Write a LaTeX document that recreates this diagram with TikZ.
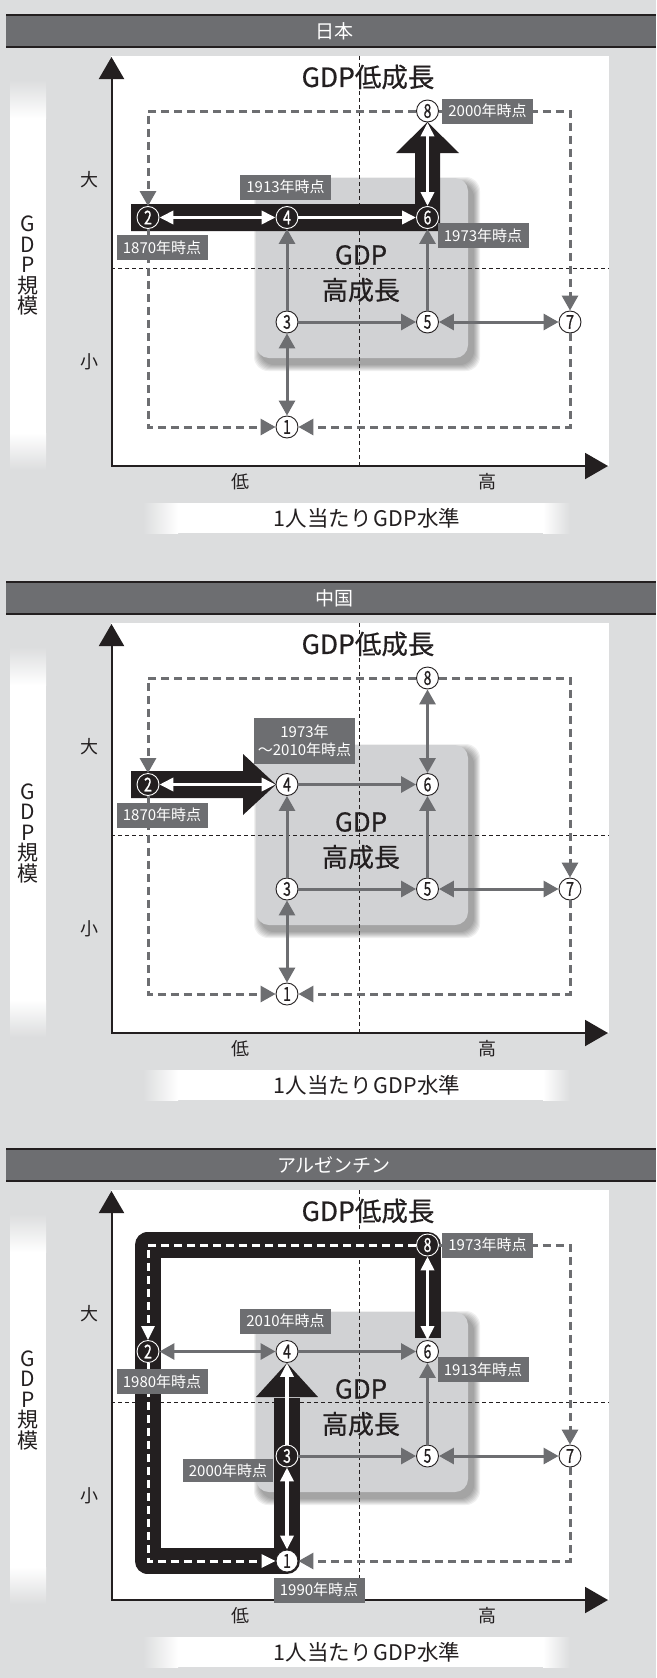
\documentclass[tikz,border=0pt]{standalone}
\usepackage{fontspec}
\setmainfont{Noto Sans CJK JP}
\usepackage{graphicx}
\usetikzlibrary{arrows.meta}
\definecolor{bg}{HTML}{DCDDDE}
\definecolor{ink}{HTML}{231F20}
\definecolor{mid}{HTML}{6D6E71}
\definecolor{boxg}{HTML}{D1D2D4}
\newcommand{\dg}[1]{\scalebox{0.74}[1]{#1}}
\newcommand{\fsz}[1]{\fontsize{#1}{#1}\selectfont}
\newcommand{\semib}{\addfontfeature{FakeBold=0.6}}
\def\xA{148}\def\xB{287}\def\xC{427.5}\def\xD{570}
\def\yE{111}\def\yT{217.5}\def\yM{322}\def\yB{427}
\tikzset{
  >={Triangle[length=15pt,width=16pt]},
  num/.style={circle, draw=ink, line width=0.9pt, fill=white, minimum size=22pt, inner sep=0pt, text=ink, font=\fsz{19}\addfontfeature{FakeBold=1}},
  numdark/.style={num, draw=white, fill=ink, text=white},
  garrow/.style={draw=mid, line width=3pt},
  gdash/.style={draw=mid, line width=3pt, dash pattern=on 8pt off 5pt, ->},
  warrow/.style={draw=white, line width=3.5pt, >={Triangle[length=14pt,width=13pt]}},
  wdash/.style={draw=white, line width=3pt, dash pattern=on 8pt off 5pt, >={Triangle[length=14pt,width=13pt]}, ->},
  lab/.style={fill=mid, text=white, inner sep=0pt, minimum width=91pt, minimum height=25pt, font=\fsz{15}},
  midline/.style={draw=ink, line width=0.8pt, dash pattern=on 4pt off 3pt},
  band/.style={fill=ink},
  txt/.style={text=ink, inner sep=0pt},
}
\newcommand{\panelbase}[1]{%
  \fill[mid] (6,14) rectangle (656,48);
  \fill[ink] (6,14) rectangle (656,16);
  \fill[ink] (6,46) rectangle (656,48);
  \node[text=white, font=\fsz{19}, inner sep=0pt] (hdr) at (334,31) {#1};
  \shade[top color=bg, bottom color=white] (10,80) rectangle (46,118);
  \fill[white] (10,117.5) rectangle (46,433.5);
  \shade[top color=white, bottom color=bg] (10,433) rectangle (46,470);
  \node[txt, font=\fontsize{21}{20.5}\selectfont, align=center] (ylab) at (28,266) {G\\D\\P\\規\\模};
  \shade[left color=bg, right color=white] (143,503) rectangle (178,533);
  \fill[white] (177.5,503) rectangle (543.5,533);
  \shade[left color=white, right color=bg] (543,503) rectangle (570,533);
  \node[txt, font=\fsz{21.5}] (xlab) at (367,518) {1人当たり\hspace{2pt}GDP水準};
  \fill[white] (111,56) rectangle (609,466);
  \foreach \k in {1,...,7} {\fill[black, opacity=0.06, rounded corners=14pt] (261-\k,184-\k) rectangle (473+\k,364+\k);}
  \fill[boxg, rounded corners=13pt] (256,178) rectangle (468,358);
  \draw[midline] (359,56) -- (359,466);
  \draw[midline] (111,268) -- (609,268);
  \node[txt, font=\fsz{26.5}\semib] (ttl) at (368,77) {GDP低成長};
  \node[txt, font=\fsz{26}\semib] (hg1) at (361,255) {GDP};
  \node[txt, font=\fsz{26}\semib] (hg2) at (361,290) {高成長};
  \node[txt, font=\fsz{18}] (dai) at (89,180) {大};
  \node[txt, font=\fsz{18}] (sho) at (89,362) {小};
  \node[txt, font=\fsz{18}] (tei) at (240,482) {低};
  \node[txt, font=\fsz{18}] (kou) at (487,482) {高};
  \coordinate (ya) at (111.5,57);
  \coordinate (org) at (111.5,466);
  \coordinate (xa) at (608,466);
  \draw[ink, line width=2pt, {Triangle[length=22pt,width=25pt]}-{Triangle[length=23pt,width=26pt]}] (ya) -- (org) -- (xa);
}
\begin{document}
\begin{tikzpicture}[x=1pt,y=-1pt]
\useasboundingbox (0,0) rectangle (656,1678);
\fill[bg] (0,0) rectangle (656,1678);

% ================= Japan
\begin{scope}
\panelbase{日本}
\fill[band] (131,204) -- (415,204) -- (415,153) -- (396,153) -- (427.5,122) -- (459,153) -- (440,153) -- (440,231) -- (131,231) -- cycle;
\node[num] (j1) at (\xB,\yB) {\dg{1}};
\node[numdark] (j2) at (\xA,\yT) {\dg{2}};
\node[num] (j3) at (\xB,\yM) {\dg{3}};
\node[numdark] (j4) at (\xB,\yT) {\dg{4}};
\node[num] (j5) at (\xC,\yM) {\dg{5}};
\node[numdark] (j6) at (\xC,\yT) {\dg{6}};
\node[num] (j7) at (\xD,\yM) {\dg{7}};
\node[num] (j8) at (\xC,\yE) {\dg{8}};
\draw[garrow,<->] (j1) -- (j3);
\draw[garrow,->] (j3) -- (j4);
\draw[garrow,->] (j3) -- (j5);
\draw[garrow,->] (j5) -- (j6);
\draw[garrow,<->] (j5) -- (j7);
\draw[gdash] (j8.west) -| (j2.north);
\draw[gdash] (j2.south) |- (j1.west);
\draw[gdash] (j8.east) -| (j7.north);
\draw[gdash] (j7.south) |- (j1.east);
\draw[warrow,<->] (j2) -- (j4);
\draw[warrow,->] (j4) -- (j6);
\draw[warrow,<->] (j6) -- (j8);
\node[lab] (jl1) at (285.5,187) {1913年時点};
\node[lab] (jl2) at (162,247.5) {1870年時点};
\node[lab] (jl3) at (483,235.5) {1973年時点};
\node[lab] (jl4) at (487.5,111) {2000年時点};
\end{scope}

% ================= China
\begin{scope}[shift={(0,567)}]
\panelbase{中国}
\fill[band] (131,204) -- (243,204) -- (243,187) -- (276,217.5) -- (243,248) -- (243,231) -- (131,231) -- cycle;
\node[num] (c1) at (\xB,\yB) {\dg{1}};
\node[numdark] (c2) at (\xA,\yT) {\dg{2}};
\node[num] (c3) at (\xB,\yM) {\dg{3}};
\node[num] (c4) at (\xB,\yT) {\dg{4}};
\node[num] (c5) at (\xC,\yM) {\dg{5}};
\node[num] (c6) at (\xC,\yT) {\dg{6}};
\node[num] (c7) at (\xD,\yM) {\dg{7}};
\node[num] (c8) at (\xC,\yE) {\dg{8}};
\draw[garrow,<->] (c1) -- (c3);
\draw[garrow,->] (c3) -- (c4);
\draw[garrow,->] (c3) -- (c5);
\draw[garrow,->] (c5) -- (c6);
\draw[garrow,<->] (c5) -- (c7);
\draw[garrow,->] (c4) -- (c6);
\draw[garrow,<->] (c6) -- (c8);
\draw[gdash] (c8.west) -| (c2.north);
\draw[gdash] (c2.south) |- (c1.west);
\draw[gdash] (c8.east) -| (c7.north);
\draw[gdash] (c7.south) |- (c1.east);
\draw[warrow,<->] (c2) -- (c4);
\node[lab, minimum width=101pt, minimum height=46pt, align=center, font=\fontsize{15}{18}\selectfont] (cl1) at (304.5,174) {1973年\\～2010年時点};
\node[lab] (cl2) at (162,248) {1870年時点};
\end{scope}

% ================= Argentina
\begin{scope}[shift={(0,1134)}]
\panelbase{アルゼンチン}
\draw[ink, line width=26pt, line join=round] (427.5,204) -- (427.5,\yE) -- (147.5,\yE) -- (147.5,\yB) -- (287,\yB) -- (287,264);
\fill[band] (256,263) -- (318,263) -- (287,229) -- cycle;
\node[num] (a1) at (\xB,\yB) {\dg{1}};
\node[numdark] (a2) at (\xA,\yT) {\dg{2}};
\node[numdark] (a3) at (\xB,\yM) {\dg{3}};
\node[num] (a4) at (\xB,\yT) {\dg{4}};
\node[num] (a5) at (\xC,\yM) {\dg{5}};
\node[num] (a6) at (\xC,\yT) {\dg{6}};
\node[num] (a7) at (\xD,\yM) {\dg{7}};
\node[numdark] (a8) at (\xC,\yE) {\dg{8}};
\draw[garrow,<->] (a2) -- (a4);
\draw[garrow,->] (a4) -- (a6);
\draw[garrow,->] (a3) -- (a5);
\draw[garrow,->] (a5) -- (a6);
\draw[garrow,<->] (a5) -- (a7);
\draw[gdash] (a8.east) -| (a7.north);
\draw[gdash] (a7.south) |- (a1.east);
\draw[wdash] (a8.west) -| (a2.north);
\draw[wdash] (a2.south) |- (a1.west);
\draw[warrow,<->] (a6) -- (a8);
\draw[warrow,<->] (a1) -- (a3);
\draw[warrow,->] (a3) -- (a4);
\node[lab] (al1) at (487.5,111) {1973年時点};
\node[lab] (al2) at (285.5,187) {2010年時点};
\node[lab] (al3) at (483,235.5) {1913年時点};
\node[lab] (al4) at (162,247.5) {1980年時点};
\node[lab, minimum width=90pt, minimum height=23pt] (al5) at (228,336.5) {2000年時点};
\node[lab] (al6) at (319,456) {1990年時点};
\end{scope}
\end{tikzpicture}
\end{document}
